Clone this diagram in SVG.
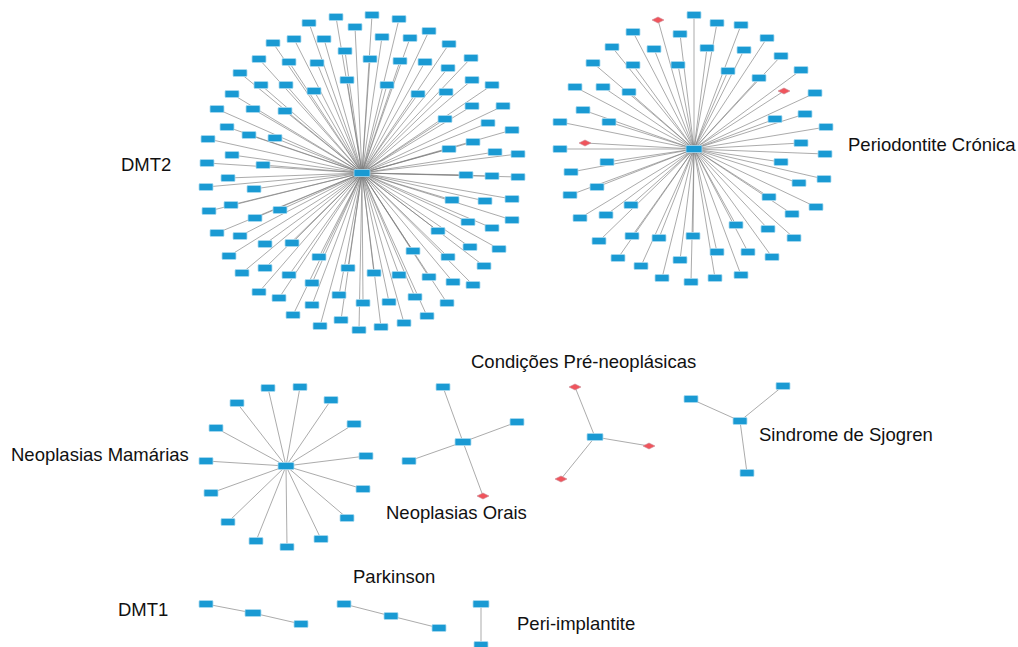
<svg xmlns="http://www.w3.org/2000/svg" xmlns:xlink="http://www.w3.org/1999/xlink" width="1018" height="647" viewBox="0 0 1018 647">
<style>
.e{fill:none;stroke:#7a7a7a;stroke-width:0.75;stroke-opacity:0.85}
.lbl{font-family:"Liberation Sans",Arial,sans-serif;font-size:18.5px;fill:#111}
</style>
<defs>
<rect id="nd" x="-7" y="-3.5" width="14" height="7" rx="1" fill="#1a9ad3" stroke="#a9d9ef" stroke-width="0.8"/>
<rect id="hub" x="-8" y="-3.5" width="16" height="7" rx="1" fill="#1a9ad3" stroke="#a9d9ef" stroke-width="0.8"/>
<polygon id="dm" points="-6,0 0,-3 6,0 0,3" fill="#f0545c" stroke="#c98a96" stroke-width="0.6"/>
</defs>
<rect width="1018" height="647" fill="#fff"/>

<g id="connectors">
<path class="e" d="M362 173L336 17M362 173L372 15M362 173L399 19M362 173L309 23M362 173L355 27M362 173L429 31M362 173L382 37M362 173L324 39M362 173L410 38M362 173L273 43M362 173L294 39M362 173L449 44M362 173L345 51M362 173L259 59M362 173L370 59M362 173L400 61M362 173L425 62M362 173L289 62M362 173L317 63M362 173L471 58M362 173L240 73M362 173L448 68M362 173L347 80M362 173L261 85M362 173L286 85M362 173L387 85M362 173L472 80M362 173L492 85M362 173L314 91M362 173L418 94M362 173L446 92M362 173L232 94M362 173L217 109M362 173L253 109M362 173L285 111M362 173L472 106M362 173L503 106M362 173L445 119M362 173L488 123M362 173L227 127M362 173L249 135M362 173L275 138M362 173L208 139M362 173L512 130M362 173L473 142M362 173L449 149M362 173L232 155M362 173L495 152M362 173L518 154M362 173L207 163M362 173L263 165M362 173L228 178M362 173L206 187M362 173L254 189M362 173L466 175M362 173L492 176M362 173L518 177M362 173L231 205M362 173L209 211M362 173L280 210M362 173L255 218M362 173L452 200M362 173L485 201M362 173L512 199M362 173L217 233M362 173L240 236M362 173L468 222M362 173L492 228M362 173L512 220M362 173L438 231M362 173L265 244M362 173L292 243M362 173L229 256M362 173L470 247M362 173L499 249M362 173L413 251M362 173L448 257M362 173L319 257M362 173L484 266M362 173L265 268M362 173L242 273M362 173L289 275M362 173L348 268M362 173L374 273M362 173L399 275M362 173L429 277M362 173L312 283M362 173L453 282M362 173L473 285M362 173L259 292M362 173L279 298M362 173L339 295M362 173L312 305M362 173L363 303M362 173L389 302M362 173L415 297M362 173L447 303M362 173L293 315M362 173L341 320M362 173L404 323M362 173L427 316M362 173L320 326M362 173L359 330M362 173L381 327"/>
<path class="e" d="M694 149L658 20M694 149L784 91M694 149L585 143M694 149L694 15M694 149L717 23M694 149L741 25M694 149L633 32M694 149L680 34M694 149L767 38M694 149L612 47M694 149L654 49M694 149L707 48M694 149L744 50M694 149L593 63M694 149L633 65M694 149L678 65M694 149L781 56M694 149L728 71M694 149L801 70M694 149L759 78M694 149L575 87M694 149L603 87M694 149L629 92M694 149L815 93M694 149L583 110M694 149L560 122M694 149L609 122M694 149L775 119M694 149L805 114M694 149L826 127M694 149L801 143M694 149L560 149M694 149L825 154M694 149L607 162M694 149L571 172M694 149L781 162M694 149L799 183M694 149L824 179M694 149L597 187M694 149L570 195M694 149L769 197M694 149L816 207M694 149L792 214M694 149L631 205M694 149L606 215M694 149L580 218M694 149L736 225M694 149L768 229M694 149L794 238M694 149L599 241M694 149L632 236M694 149L659 238M694 149L693 236M694 149L717 252M694 149L748 252M694 149L772 257M694 149L618 258M694 149L641 266M694 149L680 260M694 149L662 278M694 149L691 282M694 149L715 278M694 149L741 275"/>
<path class="e" d="M286 466L268 388M286 466L300 387M286 466L331 400M286 466L237 403M286 466L354 424M286 466L216 428M286 466L366 456M286 466L206 461M286 466L363 489M286 466L211 493M286 466L347 518M286 466L228 522M286 466L256 541M286 466L321 539M286 466L287 547"/>
<path class="e" d="M463 442L443 387M463 442L517 422M463 442L409 461M463 442L483 496"/>
<path class="e" d="M595 437L575 387M595 437L649 446M595 437L561 479"/>
<path class="e" d="M740 421L691 399M740 421L747 473M740 421L783 386"/>
<path class="e" d="M253 613L206 604M253 613L301 624M391 616L344 604M391 616L439 628M481 604L481 645"/>
</g>

<g id="dmt2">
<g id="dmt2-hub"><use href="#hub" x="362" y="173"/></g>
<g id="dmt2-1"><use href="#nd" x="336" y="17"/></g>
<g id="dmt2-2"><use href="#nd" x="372" y="15"/></g>
<g id="dmt2-3"><use href="#nd" x="399" y="19"/></g>
<g id="dmt2-4"><use href="#nd" x="309" y="23"/></g>
<g id="dmt2-5"><use href="#nd" x="355" y="27"/></g>
<g id="dmt2-6"><use href="#nd" x="429" y="31"/></g>
<g id="dmt2-7"><use href="#nd" x="382" y="37"/></g>
<g id="dmt2-8"><use href="#nd" x="324" y="39"/></g>
<g id="dmt2-9"><use href="#nd" x="410" y="38"/></g>
<g id="dmt2-10"><use href="#nd" x="273" y="43"/></g>
<g id="dmt2-11"><use href="#nd" x="294" y="39"/></g>
<g id="dmt2-12"><use href="#nd" x="449" y="44"/></g>
<g id="dmt2-13"><use href="#nd" x="345" y="51"/></g>
<g id="dmt2-14"><use href="#nd" x="259" y="59"/></g>
<g id="dmt2-15"><use href="#nd" x="370" y="59"/></g>
<g id="dmt2-16"><use href="#nd" x="400" y="61"/></g>
<g id="dmt2-17"><use href="#nd" x="425" y="62"/></g>
<g id="dmt2-18"><use href="#nd" x="289" y="62"/></g>
<g id="dmt2-19"><use href="#nd" x="317" y="63"/></g>
<g id="dmt2-20"><use href="#nd" x="471" y="58"/></g>
<g id="dmt2-21"><use href="#nd" x="240" y="73"/></g>
<g id="dmt2-22"><use href="#nd" x="448" y="68"/></g>
<g id="dmt2-23"><use href="#nd" x="347" y="80"/></g>
<g id="dmt2-24"><use href="#nd" x="261" y="85"/></g>
<g id="dmt2-25"><use href="#nd" x="286" y="85"/></g>
<g id="dmt2-26"><use href="#nd" x="387" y="85"/></g>
<g id="dmt2-27"><use href="#nd" x="472" y="80"/></g>
<g id="dmt2-28"><use href="#nd" x="492" y="85"/></g>
<g id="dmt2-29"><use href="#nd" x="314" y="91"/></g>
<g id="dmt2-30"><use href="#nd" x="418" y="94"/></g>
<g id="dmt2-31"><use href="#nd" x="446" y="92"/></g>
<g id="dmt2-32"><use href="#nd" x="232" y="94"/></g>
<g id="dmt2-33"><use href="#nd" x="217" y="109"/></g>
<g id="dmt2-34"><use href="#nd" x="253" y="109"/></g>
<g id="dmt2-35"><use href="#nd" x="285" y="111"/></g>
<g id="dmt2-36"><use href="#nd" x="472" y="106"/></g>
<g id="dmt2-37"><use href="#nd" x="503" y="106"/></g>
<g id="dmt2-38"><use href="#nd" x="445" y="119"/></g>
<g id="dmt2-39"><use href="#nd" x="488" y="123"/></g>
<g id="dmt2-40"><use href="#nd" x="227" y="127"/></g>
<g id="dmt2-41"><use href="#nd" x="249" y="135"/></g>
<g id="dmt2-42"><use href="#nd" x="275" y="138"/></g>
<g id="dmt2-43"><use href="#nd" x="208" y="139"/></g>
<g id="dmt2-44"><use href="#nd" x="512" y="130"/></g>
<g id="dmt2-45"><use href="#nd" x="473" y="142"/></g>
<g id="dmt2-46"><use href="#nd" x="449" y="149"/></g>
<g id="dmt2-47"><use href="#nd" x="232" y="155"/></g>
<g id="dmt2-48"><use href="#nd" x="495" y="152"/></g>
<g id="dmt2-49"><use href="#nd" x="518" y="154"/></g>
<g id="dmt2-50"><use href="#nd" x="207" y="163"/></g>
<g id="dmt2-51"><use href="#nd" x="263" y="165"/></g>
<g id="dmt2-52"><use href="#nd" x="228" y="178"/></g>
<g id="dmt2-53"><use href="#nd" x="206" y="187"/></g>
<g id="dmt2-54"><use href="#nd" x="254" y="189"/></g>
<g id="dmt2-55"><use href="#nd" x="466" y="175"/></g>
<g id="dmt2-56"><use href="#nd" x="492" y="176"/></g>
<g id="dmt2-57"><use href="#nd" x="518" y="177"/></g>
<g id="dmt2-58"><use href="#nd" x="231" y="205"/></g>
<g id="dmt2-59"><use href="#nd" x="209" y="211"/></g>
<g id="dmt2-60"><use href="#nd" x="280" y="210"/></g>
<g id="dmt2-61"><use href="#nd" x="255" y="218"/></g>
<g id="dmt2-62"><use href="#nd" x="452" y="200"/></g>
<g id="dmt2-63"><use href="#nd" x="485" y="201"/></g>
<g id="dmt2-64"><use href="#nd" x="512" y="199"/></g>
<g id="dmt2-65"><use href="#nd" x="217" y="233"/></g>
<g id="dmt2-66"><use href="#nd" x="240" y="236"/></g>
<g id="dmt2-67"><use href="#nd" x="468" y="222"/></g>
<g id="dmt2-68"><use href="#nd" x="492" y="228"/></g>
<g id="dmt2-69"><use href="#nd" x="512" y="220"/></g>
<g id="dmt2-70"><use href="#nd" x="438" y="231"/></g>
<g id="dmt2-71"><use href="#nd" x="265" y="244"/></g>
<g id="dmt2-72"><use href="#nd" x="292" y="243"/></g>
<g id="dmt2-73"><use href="#nd" x="229" y="256"/></g>
<g id="dmt2-74"><use href="#nd" x="470" y="247"/></g>
<g id="dmt2-75"><use href="#nd" x="499" y="249"/></g>
<g id="dmt2-76"><use href="#nd" x="413" y="251"/></g>
<g id="dmt2-77"><use href="#nd" x="448" y="257"/></g>
<g id="dmt2-78"><use href="#nd" x="319" y="257"/></g>
<g id="dmt2-79"><use href="#nd" x="484" y="266"/></g>
<g id="dmt2-80"><use href="#nd" x="265" y="268"/></g>
<g id="dmt2-81"><use href="#nd" x="242" y="273"/></g>
<g id="dmt2-82"><use href="#nd" x="289" y="275"/></g>
<g id="dmt2-83"><use href="#nd" x="348" y="268"/></g>
<g id="dmt2-84"><use href="#nd" x="374" y="273"/></g>
<g id="dmt2-85"><use href="#nd" x="399" y="275"/></g>
<g id="dmt2-86"><use href="#nd" x="429" y="277"/></g>
<g id="dmt2-87"><use href="#nd" x="312" y="283"/></g>
<g id="dmt2-88"><use href="#nd" x="453" y="282"/></g>
<g id="dmt2-89"><use href="#nd" x="473" y="285"/></g>
<g id="dmt2-90"><use href="#nd" x="259" y="292"/></g>
<g id="dmt2-91"><use href="#nd" x="279" y="298"/></g>
<g id="dmt2-92"><use href="#nd" x="339" y="295"/></g>
<g id="dmt2-93"><use href="#nd" x="312" y="305"/></g>
<g id="dmt2-94"><use href="#nd" x="363" y="303"/></g>
<g id="dmt2-95"><use href="#nd" x="389" y="302"/></g>
<g id="dmt2-96"><use href="#nd" x="415" y="297"/></g>
<g id="dmt2-97"><use href="#nd" x="447" y="303"/></g>
<g id="dmt2-98"><use href="#nd" x="293" y="315"/></g>
<g id="dmt2-99"><use href="#nd" x="341" y="320"/></g>
<g id="dmt2-100"><use href="#nd" x="404" y="323"/></g>
<g id="dmt2-101"><use href="#nd" x="427" y="316"/></g>
<g id="dmt2-102"><use href="#nd" x="320" y="326"/></g>
<g id="dmt2-103"><use href="#nd" x="359" y="330"/></g>
<g id="dmt2-104"><use href="#nd" x="381" y="327"/></g>
</g>

<g id="periodontite">
<g id="perio-hub"><use href="#hub" x="694" y="149"/></g>
<g id="perio-d1"><use href="#dm" x="658" y="20"/></g>
<g id="perio-d2"><use href="#dm" x="784" y="91"/></g>
<g id="perio-d3"><use href="#dm" x="585" y="143"/></g>
<g id="perio-1"><use href="#nd" x="694" y="15"/></g>
<g id="perio-2"><use href="#nd" x="717" y="23"/></g>
<g id="perio-3"><use href="#nd" x="741" y="25"/></g>
<g id="perio-4"><use href="#nd" x="633" y="32"/></g>
<g id="perio-5"><use href="#nd" x="680" y="34"/></g>
<g id="perio-6"><use href="#nd" x="767" y="38"/></g>
<g id="perio-7"><use href="#nd" x="612" y="47"/></g>
<g id="perio-8"><use href="#nd" x="654" y="49"/></g>
<g id="perio-9"><use href="#nd" x="707" y="48"/></g>
<g id="perio-10"><use href="#nd" x="744" y="50"/></g>
<g id="perio-11"><use href="#nd" x="593" y="63"/></g>
<g id="perio-12"><use href="#nd" x="633" y="65"/></g>
<g id="perio-13"><use href="#nd" x="678" y="65"/></g>
<g id="perio-14"><use href="#nd" x="781" y="56"/></g>
<g id="perio-15"><use href="#nd" x="728" y="71"/></g>
<g id="perio-16"><use href="#nd" x="801" y="70"/></g>
<g id="perio-17"><use href="#nd" x="759" y="78"/></g>
<g id="perio-18"><use href="#nd" x="575" y="87"/></g>
<g id="perio-19"><use href="#nd" x="603" y="87"/></g>
<g id="perio-20"><use href="#nd" x="629" y="92"/></g>
<g id="perio-21"><use href="#nd" x="815" y="93"/></g>
<g id="perio-22"><use href="#nd" x="583" y="110"/></g>
<g id="perio-23"><use href="#nd" x="560" y="122"/></g>
<g id="perio-24"><use href="#nd" x="609" y="122"/></g>
<g id="perio-25"><use href="#nd" x="775" y="119"/></g>
<g id="perio-26"><use href="#nd" x="805" y="114"/></g>
<g id="perio-27"><use href="#nd" x="826" y="127"/></g>
<g id="perio-28"><use href="#nd" x="801" y="143"/></g>
<g id="perio-29"><use href="#nd" x="560" y="149"/></g>
<g id="perio-30"><use href="#nd" x="825" y="154"/></g>
<g id="perio-31"><use href="#nd" x="607" y="162"/></g>
<g id="perio-32"><use href="#nd" x="571" y="172"/></g>
<g id="perio-33"><use href="#nd" x="781" y="162"/></g>
<g id="perio-34"><use href="#nd" x="799" y="183"/></g>
<g id="perio-35"><use href="#nd" x="824" y="179"/></g>
<g id="perio-36"><use href="#nd" x="597" y="187"/></g>
<g id="perio-37"><use href="#nd" x="570" y="195"/></g>
<g id="perio-38"><use href="#nd" x="769" y="197"/></g>
<g id="perio-39"><use href="#nd" x="816" y="207"/></g>
<g id="perio-40"><use href="#nd" x="792" y="214"/></g>
<g id="perio-41"><use href="#nd" x="631" y="205"/></g>
<g id="perio-42"><use href="#nd" x="606" y="215"/></g>
<g id="perio-43"><use href="#nd" x="580" y="218"/></g>
<g id="perio-44"><use href="#nd" x="736" y="225"/></g>
<g id="perio-45"><use href="#nd" x="768" y="229"/></g>
<g id="perio-46"><use href="#nd" x="794" y="238"/></g>
<g id="perio-47"><use href="#nd" x="599" y="241"/></g>
<g id="perio-48"><use href="#nd" x="632" y="236"/></g>
<g id="perio-49"><use href="#nd" x="659" y="238"/></g>
<g id="perio-50"><use href="#nd" x="693" y="236"/></g>
<g id="perio-51"><use href="#nd" x="717" y="252"/></g>
<g id="perio-52"><use href="#nd" x="748" y="252"/></g>
<g id="perio-53"><use href="#nd" x="772" y="257"/></g>
<g id="perio-54"><use href="#nd" x="618" y="258"/></g>
<g id="perio-55"><use href="#nd" x="641" y="266"/></g>
<g id="perio-56"><use href="#nd" x="680" y="260"/></g>
<g id="perio-57"><use href="#nd" x="662" y="278"/></g>
<g id="perio-58"><use href="#nd" x="691" y="282"/></g>
<g id="perio-59"><use href="#nd" x="715" y="278"/></g>
<g id="perio-60"><use href="#nd" x="741" y="275"/></g>
</g>

<g id="mamarias">
<g id="mam-hub"><use href="#hub" x="286" y="466"/></g>
<g id="mam-1"><use href="#nd" x="268" y="388"/></g>
<g id="mam-2"><use href="#nd" x="300" y="387"/></g>
<g id="mam-3"><use href="#nd" x="331" y="400"/></g>
<g id="mam-4"><use href="#nd" x="237" y="403"/></g>
<g id="mam-5"><use href="#nd" x="354" y="424"/></g>
<g id="mam-6"><use href="#nd" x="216" y="428"/></g>
<g id="mam-7"><use href="#nd" x="366" y="456"/></g>
<g id="mam-8"><use href="#nd" x="206" y="461"/></g>
<g id="mam-9"><use href="#nd" x="363" y="489"/></g>
<g id="mam-10"><use href="#nd" x="211" y="493"/></g>
<g id="mam-11"><use href="#nd" x="347" y="518"/></g>
<g id="mam-12"><use href="#nd" x="228" y="522"/></g>
<g id="mam-13"><use href="#nd" x="256" y="541"/></g>
<g id="mam-14"><use href="#nd" x="321" y="539"/></g>
<g id="mam-15"><use href="#nd" x="287" y="547"/></g>
</g>

<g id="orais">
<g id="orais-hub"><use href="#hub" x="463" y="442"/></g>
<g id="orais-1"><use href="#nd" x="443" y="387"/></g>
<g id="orais-2"><use href="#nd" x="517" y="422"/></g>
<g id="orais-3"><use href="#nd" x="409" y="461"/></g>
<g id="orais-d1"><use href="#dm" x="483" y="496"/></g>
</g>

<g id="preneoplasicas">
<g id="pre-hub"><use href="#hub" x="595" y="437"/></g>
<g id="pre-d1"><use href="#dm" x="575" y="387"/></g>
<g id="pre-d2"><use href="#dm" x="649" y="446"/></g>
<g id="pre-d3"><use href="#dm" x="561" y="479"/></g>
</g>

<g id="sjogren">
<g id="sjo-hub"><use href="#nd" x="740" y="421"/></g>
<g id="sjo-1"><use href="#nd" x="691" y="399"/></g>
<g id="sjo-2"><use href="#nd" x="747" y="473"/></g>
<g id="sjo-3"><use href="#nd" x="783" y="386"/></g>
</g>

<g id="dmt1">
<g id="dmt1-hub"><use href="#hub" x="253" y="613"/></g>
<g id="dmt1-1"><use href="#nd" x="206" y="604"/></g>
<g id="dmt1-2"><use href="#nd" x="301" y="624"/></g>
</g>

<g id="parkinson">
<g id="park-hub"><use href="#nd" x="391" y="616"/></g>
<g id="park-1"><use href="#nd" x="344" y="604"/></g>
<g id="park-2"><use href="#nd" x="439" y="628"/></g>
</g>

<g id="periimplantite">
<g id="peri-1"><use href="#hub" x="481" y="604"/></g>
<g id="peri-2"><use href="#nd" x="481" y="645"/></g>
</g>

<g id="labels">
<text class="lbl" x="121" y="171">DMT2</text>
<text class="lbl" x="848" y="151">Periodontite Crónica</text>
<text class="lbl" x="471" y="368">Condições Pré-neoplásicas</text>
<text class="lbl" x="11" y="461">Neoplasias Mamárias</text>
<text class="lbl" x="759" y="441">Sindrome de Sjogren</text>
<text class="lbl" x="386" y="519">Neoplasias Orais</text>
<text class="lbl" x="353" y="583">Parkinson</text>
<text class="lbl" x="118" y="616">DMT1</text>
<text class="lbl" x="517" y="630">Peri-implantite</text>
</g>
</svg>
